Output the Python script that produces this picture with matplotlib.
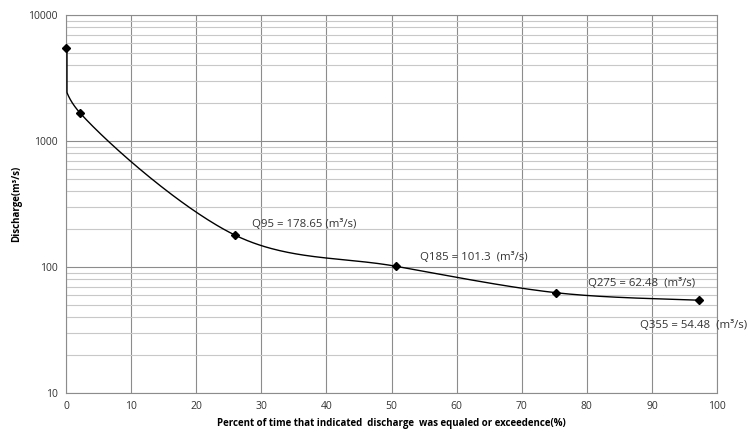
import numpy as np
import matplotlib
matplotlib.use("Agg")
import matplotlib.pyplot as plt
from matplotlib.ticker import LogLocator, FixedLocator, NullFormatter

# data
pct = [0.0, 2.2, 26.0, 50.7, 75.3, 97.3]
discharge = [5500, 1660, 178.65, 101.3, 62.48, 54.48]
labels = ["Q95 = 178.65 (m\u00b3/s)", "Q185 = 101.3  (m\u00b3/s)",
          "Q275 = 62.48  (m\u00b3/s)", "Q355 = 54.48  (m\u00b3/s)"]
label_pos = [(28.6, 219), (54.4, 120), (80.2, 74.6), (88.2, 34.6)]
xticks = [0, 10, 20, 30, 40, 50, 60, 70, 80, 90, 100]
yticks = [10, 100, 1000, 10000]

plt.rcParams['font.family'] = ['Open Sans', 'DejaVu Sans']

fig = plt.figure(figsize=(7.52, 4.30), dpi=100)
ax = fig.add_axes([66/752, 1-393/430, (717-66)/752, (393-15)/430])
ax.set_xlim(0, 100)
ax.set_yscale('log')
ax.set_ylim(10, 10000)

# smooth curve (Catmull-Rom in normalized display space)
xs = np.array(pct) / 100.0
ys = (np.log10(discharge) - 1) / 3.0 * (378/651)
P = np.column_stack([xs, ys])
Pe = np.vstack([P[0], P, P[-1]])
curve = []
for i in range(1, len(Pe)-2):
    p0, p1, p2, p3 = Pe[i-1], Pe[i], Pe[i+1], Pe[i+2]
    t = np.linspace(0, 1, 80)[:, None]
    c = 0.5*((2*p1) + (-p0+p2)*t + (2*p0-5*p1+4*p2-p3)*t**2 + (-p0+3*p1-3*p2+p3)*t**3)
    curve.append(c)
curve = np.vstack(curve)
cx = np.clip(curve[:, 0]*100, 0.15, None)
cy = 10**(curve[:, 1]/(378/651)*3 + 1)
ax.plot(cx, cy, color='black', lw=1.0, zorder=3)
ax.plot(pct, discharge, ls='none', marker='D', ms=4.5, color='black', zorder=4, clip_on=False)

for (tx, ty), s in zip(label_pos, labels):
    ax.text(tx, ty, s, fontsize=8.2, ha='left', va='center', color='#333333', clip_on=False)

ax.xaxis.set_major_locator(FixedLocator(xticks))
ax.yaxis.set_major_locator(FixedLocator(yticks))
ax.yaxis.set_minor_locator(LogLocator(base=10, subs=np.arange(2, 10)))
ax.yaxis.set_minor_formatter(NullFormatter())
ax.set_yticklabels([str(v) for v in yticks])
ax.grid(True, which='major', axis='both', color='#8c8c8c', lw=0.8)
ax.grid(True, which='minor', axis='y', color='#c8c8c8', lw=0.8)
ax.tick_params(axis='both', which='both', length=0, labelsize=7.5, colors='#333333', pad=6)
for sp in ax.spines.values():
    sp.set_color('#8c8c8c')
    sp.set_linewidth(0.8)

ax.set_xlabel('Percent of time that indicated  discharge  was equaled or exceedence(%)',
              fontsize=7, fontweight='bold', labelpad=4)
ax.set_ylabel('Discharge(m\u00b3/s)', fontsize=7, fontweight='bold', labelpad=4)

fig.savefig('out.png', dpi=100)
